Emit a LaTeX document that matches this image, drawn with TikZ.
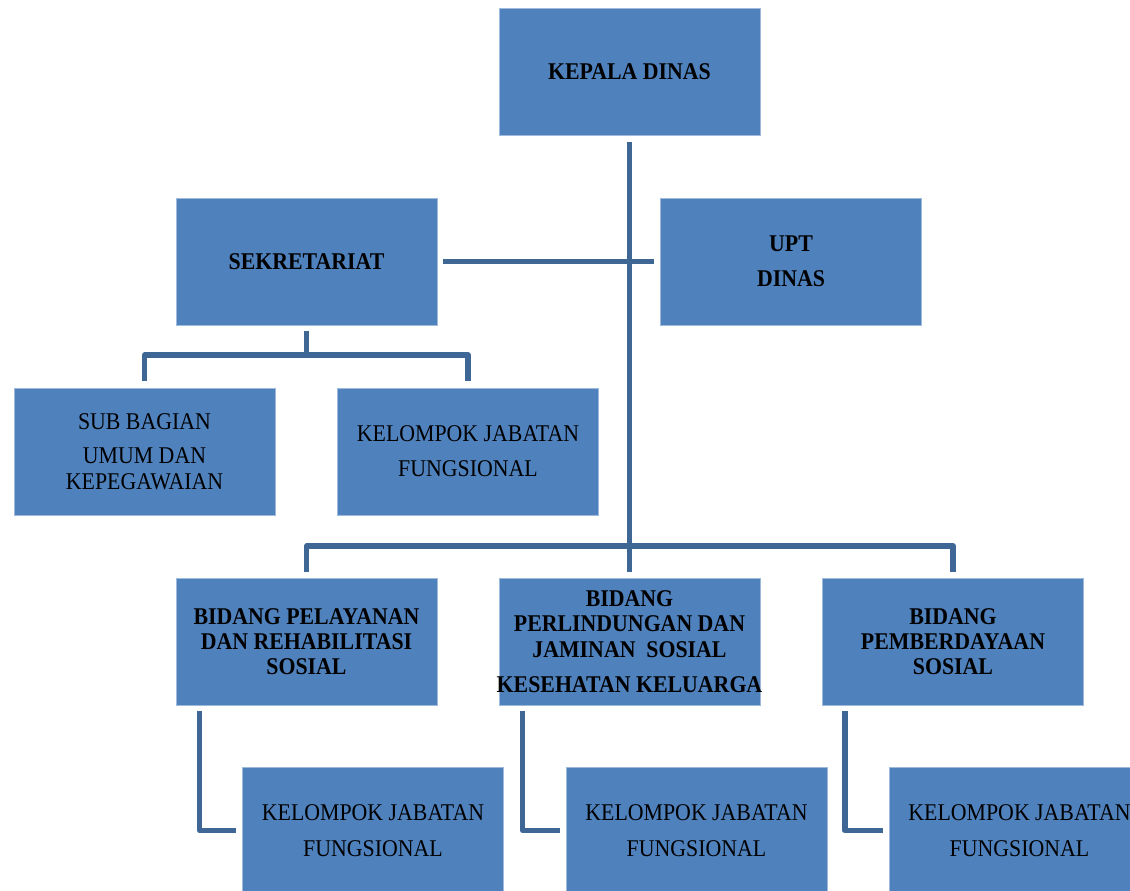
\documentclass[tikz,border=0pt]{standalone}
\usepackage{fontspec}
\setmainfont[FakeStretch=0.91]{Liberation Serif}
\usepackage{tikz}
\definecolor{boxblue}{HTML}{4F81BD}
\definecolor{linkblue}{HTML}{3E6796}
\newcommand{\boxW}[0]{195.75pt}
\newcommand{\boxH}[0]{95.25pt}
\begin{document}
\begin{tikzpicture}[x=0.75pt, y=-0.75pt]
  \tikzset{unit/.style={fill=boxblue, draw=boxblue!55!white, line width=0.5pt,
                        minimum width=\boxW, minimum height=\boxH, inner sep=0pt,
                        align=center, font=\fontsize{18}{19}\selectfont},
           head/.style={unit, font=\fontsize{18}{19}\selectfont\bfseries},
           link/.style={draw=linkblue, line width=4pt, line join=round}}
  \useasboundingbox (0,0) rectangle (1130,891);
  \node[head](kd) at (629.5,72) {KEPALA DINAS};
  \node[head](sek) at (306.5,261.5) {SEKRETARIAT};
  \node[head](upt) at (791,261.5) {UPT\\[7.5pt]DINAS};
  \node[unit](sb) at (144.5,451.5) {SUB BAGIAN\\[7pt]UMUM DAN\\KEPEGAWAIAN};
  \node[unit](kj0) at (468,451.5) {KELOMPOK JABATAN\\[7.5pt]FUNGSIONAL};
  \node[head](b1) at (306.5,641.5) {BIDANG PELAYANAN\\DAN REHABILITASI\\SOSIAL};
  \node[head](b2) at (629.5,641.5) {BIDANG\\PERLINDUNGAN DAN\\JAMINAN~~SOSIAL\\[7.5pt]\makebox[\boxW]{KESEHATAN KELUARGA}};
  \node[head](b3) at (953,641.5) {BIDANG\\PEMBERDAYAAN\\SOSIAL};
  \node[unit](kj1) at (373,830.5) {KELOMPOK JABATAN\\[7.5pt]FUNGSIONAL};
  \node[unit](kj2) at (696.5,830.5) {KELOMPOK JABATAN\\[7.5pt]FUNGSIONAL};
  \node[unit](kj3) at (1019.5,830.5) {KELOMPOK JABATAN\\[7.5pt]FUNGSIONAL};
  \coordinate (hub) at (629.5,546);
  \coordinate (sekhub) at (306.5,355);
  \draw[link, shorten <=4.5pt] (kd.south) -- (hub);
  \draw[link, shorten <=4.5pt, shorten >=4.5pt] (sek.east) -- (upt.west);
  \draw[link, shorten <=4.5pt] (sek.south) -- (sekhub);
  \draw[link, shorten <=5pt, shorten >=5pt] (sb.north) |- (sekhub) -| (kj0.north);
  \draw[link, shorten <=4.5pt, shorten >=4.5pt] (b1.north) |- (hub) -| (b3.north);
  \draw[link, shorten >=4.5pt] (hub) -- (b2.north);
  \draw[link, shorten <=4.5pt, shorten >=4.5pt] ([xshift=18pt]b1.south west) |- (kj1.west);
  \draw[link, shorten <=4.5pt, shorten >=4.5pt] ([xshift=18pt]b2.south west) |- (kj2.west);
  \draw[link, shorten <=4.5pt, shorten >=4.5pt] ([xshift=17pt]b3.south west) |- (kj3.west);
\end{tikzpicture}
\end{document}
